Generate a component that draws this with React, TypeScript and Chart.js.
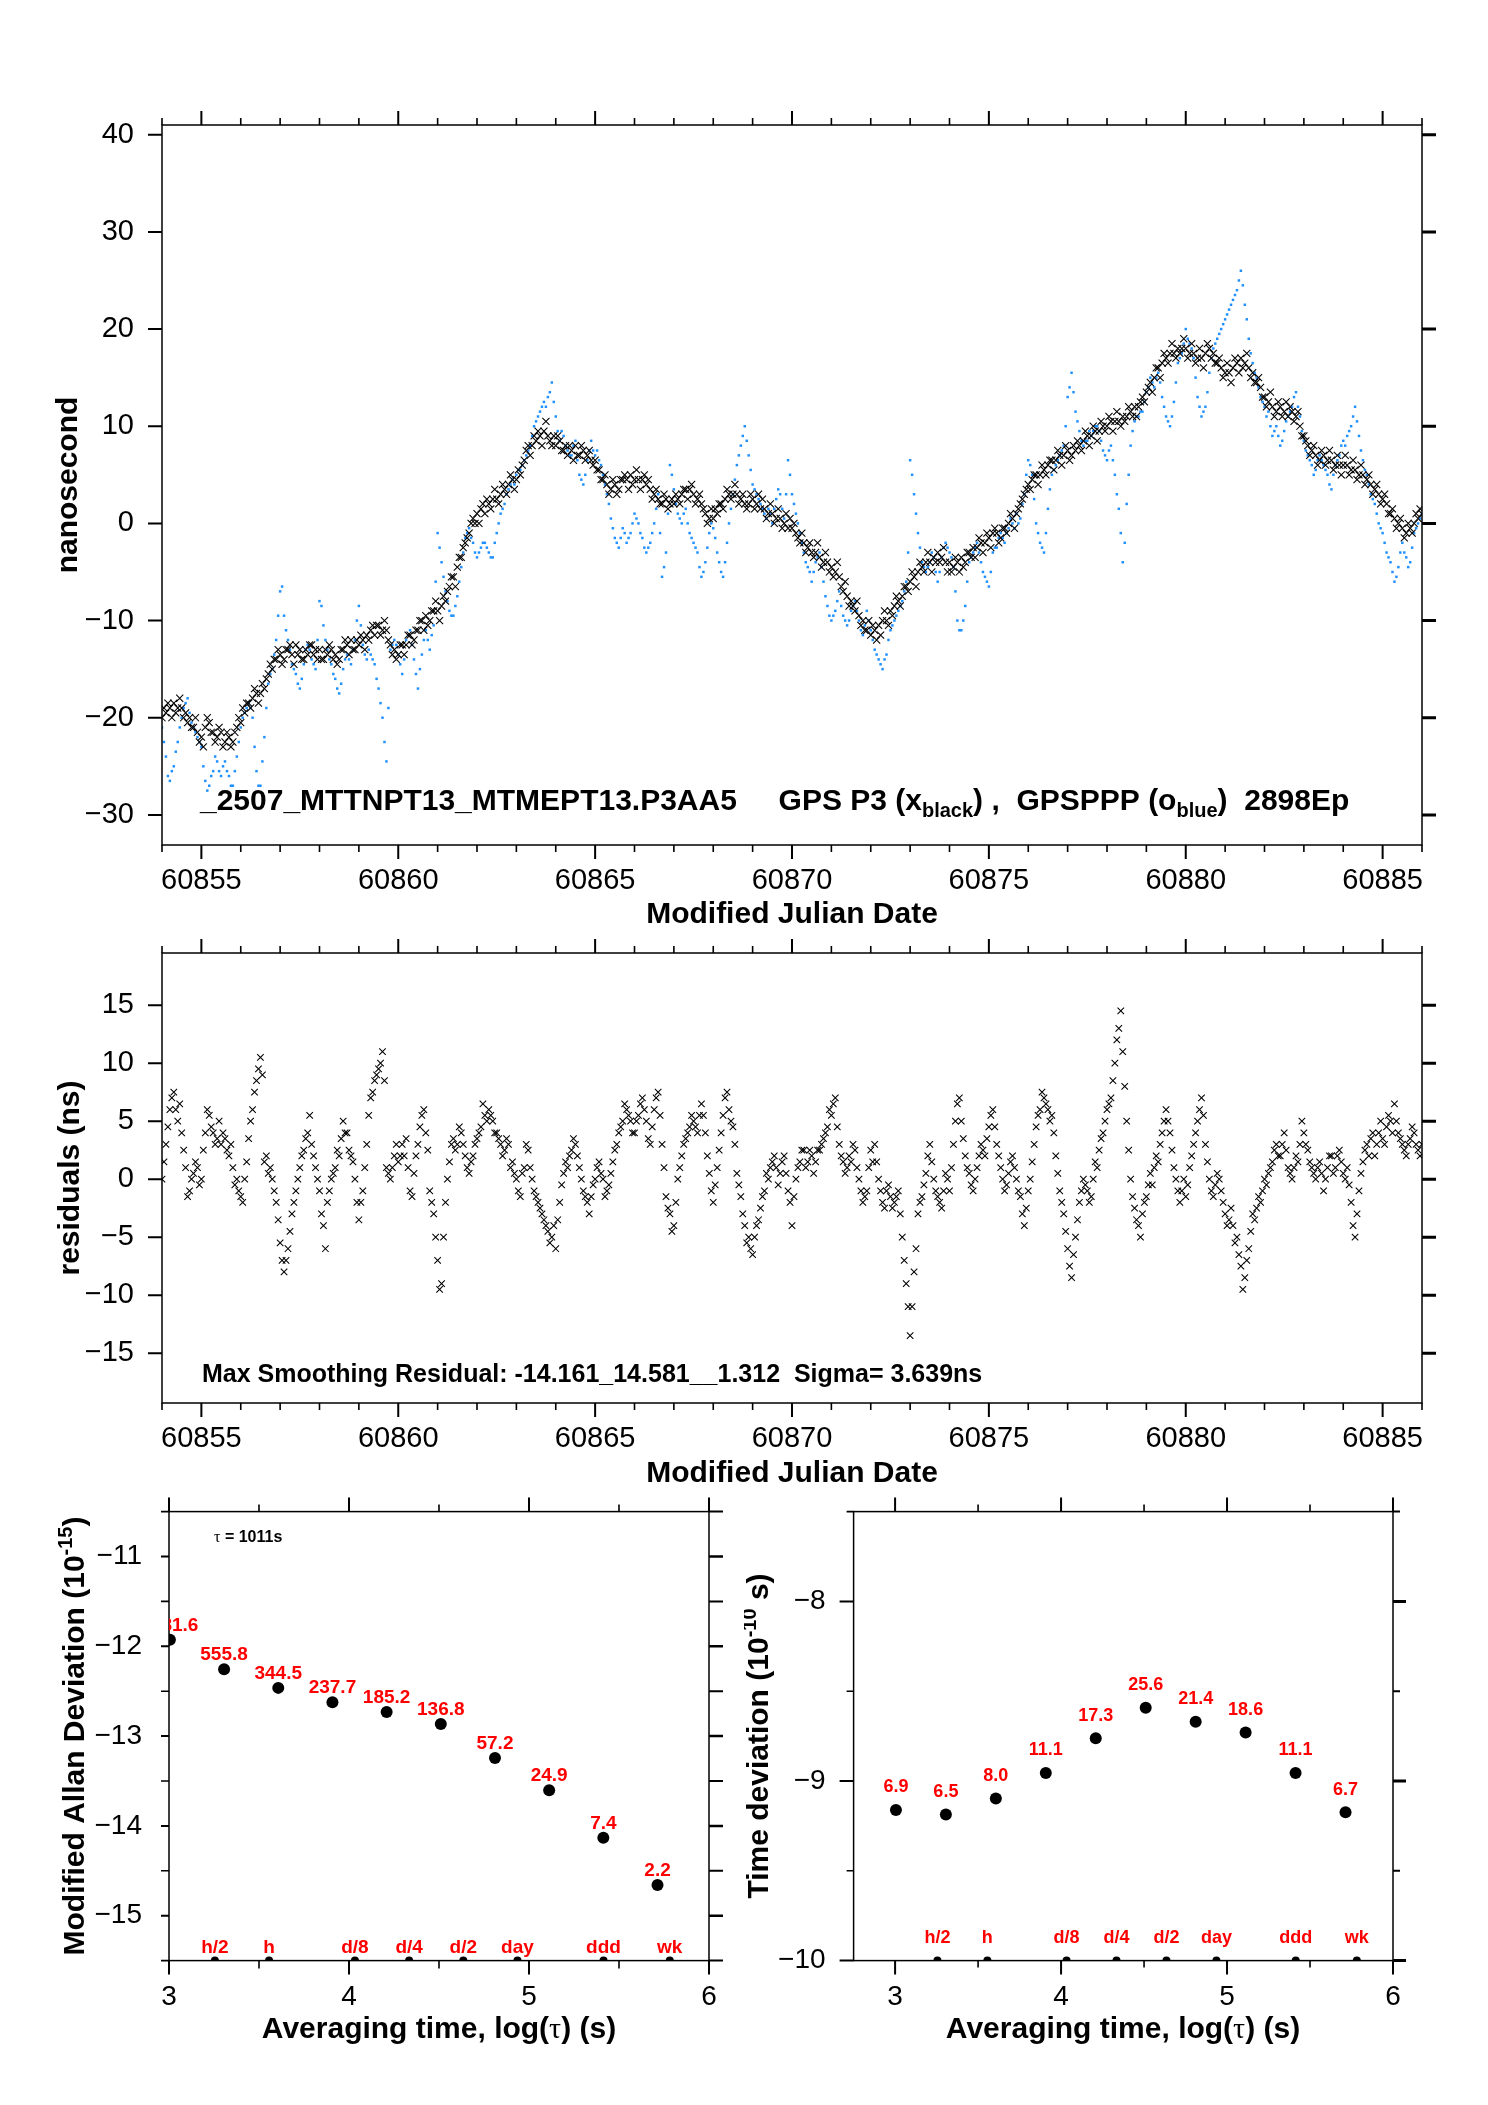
import React, { useEffect, useRef } from 'react';
import { Chart, registerables } from 'chart.js';
Chart.register(...registerables);

const SANS = "'Liberation Sans', Arial, Helvetica, sans-serif";
const SERIF = "'Liberation Serif', 'DejaVu Serif', serif";

// ---------- time series: MJD from 60854, 0.1 day step; "B" arrays are the readings half a step later ----------
const MJD_START = 60854;
const MJD_STEP = 0.1;

const p3Black = [
  -20, -19.5, -19, -18.5, -19, -19, -19.5, -20, -21, -21.5,
  -22, -21, -20.5, -21.5, -22, -21.5, -22.5, -22, -22.5, -21,
  -20.5, -19.5, -18.5, -18, -17.5, -17.5, -17, -15.5, -15, -14,
  -13.5, -14, -13, -13.5, -12.5, -13, -14, -13.5, -12.5, -13,
  -13, -14, -13.5, -13, -13.5, -14, -13, -12.5, -12, -13,
  -12.5, -12, -11.5, -11, -11.5, -10.5, -11, -11, -12.5, -13,
  -13.5, -12.5, -12.5, -11.5, -12, -11, -10, -9.5, -10, -9,
  -9, -8.5, -8, -6.5, -5.5, -4.5, -3.5, -2, -1, 0.5,
  1, 1.5, 1, 2, 2.5, 2.5, 3, 3.5, 4, 4.5,
  4.5, 5, 6.5, 8, 8, 8.5, 9, 9.5, 9, 8,
  8, 8.5, 7.5, 7, 7.5, 8, 7, 7.5, 7, 6.5,
  6.5, 5.5, 4.5, 4, 3.5, 4, 3.5, 4.5, 4.5, 5,
  4.5, 4.5, 4.5, 4, 3.5, 3, 2.5, 2, 2.5, 2,
  2, 2.5, 3, 3.5, 3.5, 3, 2.5, 2, 1, 0.5,
  0.5, 1, 2, 2.5, 3, 3, 3, 2.5, 2, 2,
  2.5, 2, 1.5, 1.5, 1, 1, 0.5, 0.5, 0, -0.5,
  -0.5, -1, -2, -2, -2.5, -3, -3, -3.5, -4, -4,
  -4.5, -5, -5.5, -7, -7.5, -8, -9, -9.5, -10, -11,
  -11.5, -11, -10.5, -10, -10, -9, -8.5, -8, -7.5, -6.5,
  -6, -5.5, -5, -4.5, -4, -4, -3.5, -3, -3.5, -4,
  -4, -4.5, -4, -3.5, -4, -3, -2.5, -2.5, -2, -2,
  -1.5, -1, -1, -1.5, -0.5, 0, 0.5, 1, 2, 3,
  4, 4.5, 5, 5, 5.5, 6, 6.5, 6.5, 7, 7,
  7.5, 7, 7.5, 8, 8.5, 9, 9, 9.5, 9.5, 10,
  10, 10.5, 10.5, 10.5, 11, 11, 11.5, 12, 12, 13,
  13.5, 14.5, 15, 16, 16.5, 17, 17.5, 17.5, 18, 18,
  18, 17.5, 17.5, 17, 17, 17.5, 18, 17.5, 16.5, 16,
  15.5, 15.5, 16, 16.5, 17, 16.5, 16, 15.5, 14.5, 14,
  13, 12.5, 12, 11.5, 12, 11.5, 11, 11.5, 11, 10,
  9, 8, 7.5, 7, 6.5, 7, 6.5, 6.5, 6, 6,
  6, 6, 5.5, 5.5, 5, 5, 4.5, 4, 3.5, 3,
  2.5, 2, 1, 0.5, 0, -0.5, -1, -0.5, 0, 0.5,
  1,
];
const p3BlackB = [
  -19, -18.5, -20, -19.5, -18, -20, -20.5, -21, -20, -22.5,
  -23, -20, -21.5, -22.5, -21, -23, -21.5, -23, -21.5, -20,
  -19, -18.5, -19, -17, -18.5, -16.5, -16, -14.5, -14, -13,
  -14.5, -13, -12.5, -14.5, -13.5, -14, -13, -12.5, -13.5, -14,
  -14, -13, -12.5, -14, -14.5, -13, -12, -13.5, -13, -12,
  -11.5, -13, -12, -10.5, -10.5, -11.5, -10, -12, -13.5, -14,
  -12.5, -13.5, -11.5, -12.5, -11, -10, -11, -10.5, -9, -8,
  -10, -7.5, -7, -5.5, -6.5, -3.5, -2.5, -1.5, 0, 0,
  0, 2, 2.5, 1.5, 3.5, 2, 4, 3, 5, 3.5,
  5.5, 6, 7.5, 7, 9, 9.5, 8, 10.5, 8.5, 9,
  9, 7.5, 8, 8, 6.5, 7, 8, 6.5, 7.5, 6,
  5.5, 4.5, 5, 3, 4.5, 3, 4.5, 5, 3.5, 4,
  5.5, 3.5, 5, 4.5, 2.5, 3.5, 2, 3, 1.5, 2.5,
  3, 2, 3.5, 2.5, 4, 2, 3, 1.5, 0, 1.5,
  1.5, 2, 1.5, 3.5, 2.5, 4, 2, 3, 1.5, 3,
  1.5, 3, 2.5, 0.5, 2, 0, 1.5, -0.5, 1, 0.5,
  0, -1.5, -1, -3, -2, -3.5, -2, -4.5, -3, -5,
  -5.5, -4, -6.5, -6, -8.5, -8.5, -8, -10.5, -11, -10,
  -10.5, -12, -11.5, -9, -10.5, -9.5, -7.5, -8.5, -6.5, -7,
  -5, -6.5, -4, -5, -3, -5, -4, -4, -2.5, -5,
  -5, -3.5, -5, -4.5, -3, -3.5, -3.5, -1.5, -3, -1,
  -2.5, -0.5, -2, -0.5, -1, 1, -0.5, 1.5, 2.5, 3.5,
  3.5, 5, 4, 6, 5, 6.5, 5.5, 7.5, 6, 8,
  6.5, 8, 8.5, 7.5, 9.5, 8, 10, 8.5, 10.5, 9.5,
  11, 9.5, 11.5, 10, 10.5, 12, 11, 11, 12.5, 12.5,
  14, 13.5, 16, 15, 17.5, 16.5, 18.5, 17, 17.5, 19,
  17, 18.5, 16.5, 18, 16, 18.5, 17, 16.5, 17, 15,
  16.5, 14.5, 17, 15.5, 16, 17.5, 15, 14.5, 15, 13,
  12, 13.5, 11, 12.5, 11, 12.5, 12, 10.5, 11.5, 9,
  8.5, 7, 8, 6, 7.5, 6, 7.5, 5.5, 7, 5,
  7, 5, 6.5, 4.5, 6, 4, 5, 3, 4, 2,
  3, 1, 1.5, -0.5, 0.5, -1.5, 0, -1, 1, 1.5,
];

const pppBlue = [
  -21, -24, -26.5, -25, -22.5, -20, -18.5, -19.5, -21, -22,
  -23, -26.5, -27, -25.5, -24.5, -26, -24.5, -26, -27, -24,
  -21, -19.5, -18.5, -20, -25.5, -27, -22, -16.5, -15, -12,
  -7, -9.5, -12, -14.5, -15.5, -17, -14.5, -12.5, -14, -15,
  -8, -10.5, -13, -14.5, -16, -17.5, -15, -13.5, -14.5, -12,
  -8.5, -12.5, -14, -13.5, -14.5, -17, -20, -24.5, -13, -12,
  -13.5, -15.5, -12, -11, -14, -17, -13.5, -11, -13, -10.5,
  -1, -4, -7, -9, -9.5, -7.5, -4.5, -1.5, -0.5, -2,
  -3.5, -2.5, -2, -3, -3.5, -1, 1, 2, 3.5, 4.5,
  5, 5.5, 6.5, 7.5, 9, 10.5, 11.5, 12.5, 13, 14.5,
  11, 8.5, 9, 7.5, 7, 8.5, 5, 4, 6.5, 8.5,
  7, 6.5, 5, 3, 0.5, -1.5, -2.5, -0.5, -2, -1,
  1, 0, -1.5, -3, -2, 0, 3, -5.5, -3, 6,
  3.5, 1, 0, 1.5, -1, -2, -3, -5.5, -4, -1,
  -0.5, -3, -5, -4, 0, 3, 6, 8, 10, 7,
  4, 3, 2, 1, 1.5, 0, 2.5, 3, 0.5, 6.5,
  3, 1, -1, -3, -4.5, -6, -4, -3, -6, -8.5,
  -10, -9, -7, -9.5, -10.5, -9, -8, -10, -11.5, -9,
  -11, -13, -14, -15, -13.5, -11, -10, -9, -8, -6,
  6.5, 3, -1, -4, -5, -4, -3.5, -6, -3.5, -2,
  -3, -4.5, -10, -11, -8.5, -4, -3, -2, -4, -5.5,
  -6.5, -3, -2.5, -1, -2, -0.5, 0, 1, 0.5, 3,
  6.5, 5, 0, -2, -3, 1.5, 5, 6, 7, 8,
  13, 15.5, 11.5, 9.5, 8, 8.5, 9, 10, 9.5, 7.5,
  6.5, 8, 5, 1.5, -4, 2, 8, 10.5, 11, 11.5,
  13.5, 15, 14, 15.5, 13, 11, 10, 12.5, 16.5, 17.5,
  20, 18.5, 17, 13, 11, 12, 15.5, 18, 19, 20,
  21, 22, 23, 24, 26, 22.5, 19, 16.5, 15, 13,
  12, 11.5, 9, 10, 8, 9.5, 11, 12, 13.5, 11,
  8.5, 7, 6, 5.5, 7, 6, 5, 3.5, 6, 7,
  8.5, 9, 10, 12, 9, 6.5, 5, 3, 2, 0,
  -1, -3, -4, -6, -4.5, -2, -3.5, -4, -1, 0,
  1,
];
const pppBlueB = [
  -22.5, -26, -25.5, -23.5, -21, -19, -18, -20.5, -21.5, -22.5,
  -25, -27.5, -26, -24, -25.5, -25, -25.5, -27, -25.5, -22.5,
  -20, -19, -19, -23, -27, -24.5, -19, -15.5, -13.5, -9.5,
  -6.5, -11, -13, -15, -16.5, -16, -13, -13, -14.5, -12,
  -8.5, -12, -14, -15.5, -17, -16.5, -14, -14, -13, -10,
  -10.5, -13.5, -13, -14, -16, -18.5, -22.5, -19, -12.5, -12.5,
  -14.5, -14, -11.5, -12.5, -15.5, -15, -12, -12, -11.5, -6,
  -2.5, -5.5, -8, -9.5, -8.5, -6, -3, -1, -1.5, -3,
  -3, -2, -2.5, -3.5, -2, 0, 1.5, 3, 4, 4,
  5.5, 6, 7, 8, 10, 11, 12, 12, 13.5, 12.5,
  9.5, 9.5, 8, 7, 8, 6.5, 4.5, 5, 7.5, 7.5,
  7.5, 6, 4, 2, -0.5, -2, -1.5, -1, -1.5, 0,
  0.5, -1, -2.5, -2.5, -1, 1.5, -1, -4.5, 1, 5,
  2, 0.5, 1, 0, -1.5, -2.5, -4.5, -5, -2.5, 0,
  -1.5, -4, -5.5, -2, 1.5, 4.5, 7, 9, 8.5, 5.5,
  3.5, 2.5, 1.5, 0.5, 1, 1.5, 3.5, 1.5, 3, 5,
  2, 0, -2, -4, -5, -5, -3.5, -4.5, -7.5, -9.5,
  -9.5, -8, -8.5, -10, -10, -8.5, -9, -11, -10.5, -10,
  -12, -13.5, -14.5, -14, -12, -10.5, -9.5, -8.5, -7, -3,
  5, 1, -2.5, -4.5, -4.5, -3, -5, -5, -2.5, -2.5,
  -3.5, -7, -11, -10, -6, -3.5, -2.5, -3, -5, -6,
  -5, -2.5, -1.5, -1.5, -1, 0.5, -0.5, 0, 2, 5,
  6, 2.5, -1, -2.5, -1, 3.5, 5.5, 6.5, 7.5, 10,
  14, 13.5, 10.5, 8.5, 8.5, 9.5, 9.5, 10, 8.5, 7,
  7.5, 6.5, 3, -1, -2, 5, 9.5, 11, 11.5, 12.5,
  14, 14.5, 15, 14.5, 12, 10.5, 11, 14.5, 17, 18.5,
  19, 18, 15, 12, 11.5, 13.5, 17, 18.5, 19.5, 20.5,
  21.5, 22.5, 23.5, 25, 24.5, 21, 17.5, 15.5, 14, 12.5,
  11, 10, 9.5, 9, 8.5, 10.5, 11.5, 13, 12, 9.5,
  7.5, 6.5, 5, 6.5, 6.5, 5.5, 4, 5, 6.5, 8,
  8, 9.5, 11, 10.5, 7.5, 5.5, 4, 2.5, 1, -0.5,
  -2, -3.5, -5, -5.5, -3, -3, -4.5, -2.5, -0.5, 0.5,
];

const residuals = [
  0, 3, 6, 7.5, 5, 4, 1, -1, 0.5, 1,
  0, 4, 5.5, 4, 3.5, 3, 3.5, 2, 1, 0,
  -1.5, 0, 3.5, 6, 8.5, 10.5, 1.5, 0.5, 0, -2,
  -5.5, -8, -6, -3, -1, 1, 2.5, 4, 3, 1,
  -1, -4, -2, 0, 1, 2, 5, 4, 2, 0,
  -3.5, -1, 3, 7, 8.5, 9.5, 11, 1, 0, 2,
  1.5, 3, 3.5, -1, 0.5, 3, 5.5, 4, -1, -3,
  -7, -9, -2, 1.5, 3.5, 3, 4, 2, 0.5, 2,
  3.5, 4.5, 5.5, 6, 5, 4, 3, 2.5, 3, 1.5,
  0, -1.5, 1, 2.5, 0, -1.5, -2.5, -3.5, -4.5, -5,
  -6, -2, 0.5, 1, 2.5, 3, 1, -1, -2, -1.5,
  0, 1.5, 0, -1, 0.5, 2.5, 4, 5, 6, 5,
  4, 5.5, 7, 5, 3, 6, 7.5, 3, -1.5, -3,
  -4, 0, 2, 3.5, 4.5, 5, 4, 6.5, 4, 0.5,
  -2, 1, 4, 7, 6, 4.5, 0.5, -1.5, -4, -5,
  -6.5, -4, -2.5, -1, 0, 1.5, 1, 0.5, 2, -1,
  -4, 0, 1.5, 2.5, 1.5, 2, 1.5, 2.5, 3.5, 4.5,
  5.5, 7, 3, 1.5, 1, 1.5, 2.5, 0, -2, -1,
  2.5, 3, 0, -2, -1, -1.5, -2, -1, -5, -9,
  -13.5, -8, -3, -1.5, 0.5, 3, 0, -1.5, -2.5, 0.5,
  -1, 3, 6.5, 5, 2, 0.5, -1, 1, 3, 2,
  4.5, 6, 3, 1, -1, 0.5, 2, 0, -1.5, -4,
  -1, 1.5, 4.5, 6, 7, 6, 5.5, 2, -1, -3,
  -6, -8.5, -5, -2, 0, -1, -1.5, 1.5, 2.5, 4,
  6, 7, 10, 13, 11, 5, 0, -2.5, -4, -3,
  -1.5, 0.5, 1, 1.5, 4, 6, 4, 1, -1, -1,
  -1.5, 1, 3, 5, 7, 3, 0, -1.5, 0.5, -1,
  -3, -3.5, -4, -5, -7.5, -8.5, -6, -3, -2.5, -2,
  0, 0.5, 1.5, 3, 2, 4, 1, 0, 2, 3,
  4, 2.5, 1, 0, 1.5, -1, 1, 2, 1, 2.5,
  0.5, 1, -2, -5, -1, 1.5, 3, 3.5, 2, 4,
  3.5, 4.5, 5, 6.5, 4, 3, 2, 3.5, 4, 2.5,
  3,
];
const residualsB = [
  1.5, 4.5, 7, 6, 6.5, 2.5, -1.5, 0, 1.5, -0.5,
  2.5, 6, 4.5, 3, 5, 4, 2.5, 3, -0.5, -1,
  -2, 1.5, 5, 7.5, 9.5, 9, 2, 1, -1, -3.5,
  -7, -7, -4.5, -2, 0, 2, 3.5, 5.5, 2, 0,
  -3, -6, -1, 0.5, 2.5, 3.5, 4, 2.5, 1.5, -2,
  -2, 1, 5.5, 7.5, 9, 10, 8.5, 0.5, 1, 3,
  2, 2, 1, -1.5, 2, 4.5, 6, 2.5, -2, -5,
  -9.5, -5, 0, 3, 2.5, 4.5, 3, 1, 1.5, 3,
  4, 6.5, 5, 5.5, 4, 3.5, 2, 3.5, 1, 0.5,
  -1, 0.5, 3, 1, -1, -2, -3, -4, -5.5, -4,
  -3.5, -0.5, 1.5, 2, 3.5, 2, 0, -1.5, -3, -0.5,
  1, 0.5, -1.5, -0.5, 1.5, 3, 4.5, 6.5, 5.5, 4,
  5, 6.5, 6, 3.5, 4.5, 7, 5.5, 1, -2.5, -4.5,
  -2, 1, 3, 4, 5.5, 4.5, 5.5, 5.5, 2, -1,
  -0.5, 2.5, 5.5, 7.5, 5, 3, -0.5, -3, -5.5, -6,
  -5, -3.5, -1.5, 0.5, 1, 2, -0.5, 1.5, 0.5, -2,
  -1.5, 1, 2.5, 1, 2.5, 0.5, 2.5, 3, 4, 6,
  6.5, 4.5, 2, 0.5, 2, 3, 1, -1, -1.5, 1,
  1.5, 1.5, -1, -2.5, -0.5, -2.5, -1.5, -3, -7, -11,
  -11, -6, -2, -0.5, 2, 1.5, -1, -2, -1, 0,
  1, 5, 7, 3.5, 1, -0.5, 0, 2, 2.5, 3.5,
  5.5, 4.5, 2, 0, -0.5, 1.5, 1, -1, -3, -2.5,
  0, 3, 5.5, 7.5, 6.5, 5, 4, 0.5, -2, -4.5,
  -7.5, -6.5, -3.5, -1, -0.5, -2, 0, 1, 3.5, 5,
  6.5, 8.5, 12, 14.5, 8, 2.5, -1.5, -3.5, -5, -2,
  -0.5, -0.5, 2, 3, 5, 5, 2.5, 0, -2, 0,
  -0.5, 2, 4, 6, 5.5, 1.5, -1, -0.5, 0, -2,
  -4, -2.5, -5.5, -6.5, -9.5, -7, -4.5, -3.5, -1.5, -1,
  -0.5, 1, 2.5, 2, 3, 2.5, 0.5, 1, 1.5, 5,
  3, 1.5, 0.5, 1, 0.5, 0, 2, 0.5, 2, 1.5,
  0, -0.5, -4, -3, 0.5, 2.5, 2, 4, 3, 5,
  3, 5.5, 4, 5, 3.5, 2.5, 3, 4.5, 3, 2,
];

const mjdTicks = [60855, 60860, 60865, 60870, 60875, 60880, 60885];
const nsTicks = [-30, -20, -10, 0, 10, 20, 30, 40];
const resTicks = [-15, -10, -5, 0, 5, 10, 15];

// ---------- stability ----------
const logTau = [3.005, 3.306, 3.607, 3.908, 4.209, 4.51, 4.811, 5.112, 5.413, 5.714];
const mdevLog = [-11.927, -12.255, -12.463, -12.624, -12.732, -12.864, -13.243, -13.604, -14.131, -14.658];
const mdevLabels = ['1181.6', '555.8', '344.5', '237.7', '185.2', '136.8', '57.2', '24.9', '7.4', '2.2'];
const tdevLog = [-9.161, -9.187, -9.097, -8.955, -8.762, -8.592, -8.67, -8.73, -8.955, -9.174];
const tdevLabels = ['6.9', '6.5', '8.0', '11.1', '17.3', '25.6', '21.4', '18.6', '11.1', '6.7'];
const markerLog = [3.255, 3.556, 4.033, 4.334, 4.635, 4.936, 5.414, 5.782];
const markerLabels = ['h/2', 'h', 'd/8', 'd/4', 'd/2', 'day', 'ddd', 'wk'];
const logTicks = [3, 4, 5, 6];
const mdevTicks = [-11, -12, -13, -14, -15];
const tdevTicks = [-8, -9, -10];

// ---------- helpers ----------
const toXY = (arr: number[], off = 0) => arr.map((v, i) => ({ x: MJD_START + off + i * MJD_STEP, y: v }));
const fmtMinus = (v: number) => (v < 0 ? '\u2212' + Math.abs(v) : String(v));
const range = (a: number, b: number, s: number) => {
  const out: number[] = [];
  for (let v = a; v <= b + 1e-9; v += s) out.push(Math.round(v * 1000) / 1000);
  return out;
};
const without = (arr: number[], ex: number[]) => arr.filter((v) => !ex.some((e) => Math.abs(e - v) < 1e-6));

type Seg = { t: string; f: string; dy?: number; c?: string };
type TextItem = { segs: Seg[]; x: number; y: number; align: 'left' | 'center' | 'right'; rot?: number };
type TickSide = { major: number[]; minor: number[]; majLen: number; minLen: number; majW: number; minW: number };
type PointLabel = { ds: number; labels: string[]; font: string; color: string; dy: number };
type FrameCfg = {
  offX: number; offY: number;
  top?: TickSide; bottom?: TickSide; left?: TickSide; right?: TickSide;
  texts: TextItem[]; pointLabels?: PointLabel[];
};

function drawRich(ctx: CanvasRenderingContext2D, it: TextItem, offX: number, offY: number) {
  ctx.save();
  ctx.translate(it.x - offX, it.y - offY);
  if (it.rot) ctx.rotate(it.rot);
  let w = 0;
  for (const s of it.segs) { ctx.font = s.f; w += ctx.measureText(s.t).width; }
  let cx = it.align === 'left' ? 0 : it.align === 'center' ? -w / 2 : -w;
  ctx.textAlign = 'left';
  ctx.textBaseline = 'alphabetic';
  for (const s of it.segs) {
    ctx.font = s.f;
    ctx.fillStyle = s.c || '#000';
    ctx.fillText(s.t, cx, s.dy || 0);
    cx += ctx.measureText(s.t).width;
  }
  ctx.restore();
}

function makeFrame(cfg: FrameCfg) {
  return {
    id: 'frame',
    afterDatasetsDraw(chart: any) {
      const { ctx, chartArea: a, scales } = chart;
      const xs = scales.x, ys = scales.y;
      ctx.save();
      ctx.strokeStyle = '#000';
      ctx.lineWidth = 1.5;
      ctx.strokeRect(a.left, a.top, a.right - a.left, a.bottom - a.top);
      const draw = (side: 'top' | 'bottom' | 'left' | 'right', vals: number[], len: number, w: number) => {
        ctx.lineWidth = w;
        ctx.beginPath();
        for (const v of vals) {
          if (side === 'top' || side === 'bottom') {
            const p = xs.getPixelForValue(v);
            const y0 = side === 'top' ? a.top : a.bottom;
            ctx.moveTo(p, y0);
            ctx.lineTo(p, side === 'top' ? y0 - len : y0 + len);
          } else {
            const p = ys.getPixelForValue(v);
            const x0 = side === 'left' ? a.left : a.right;
            ctx.moveTo(x0, p);
            ctx.lineTo(side === 'left' ? x0 - len : x0 + len, p);
          }
        }
        ctx.stroke();
      };
      (['top', 'bottom', 'left', 'right'] as const).forEach((s) => {
        const t = cfg[s];
        if (!t) return;
        draw(s, t.major, t.majLen, t.majW);
        draw(s, t.minor, t.minLen, t.minW);
      });
      if (cfg.pointLabels) {
        ctx.save();
        ctx.beginPath();
        ctx.rect(a.left, a.top, a.right - a.left, a.bottom - a.top);
        ctx.clip();
        for (const pl of cfg.pointLabels) {
          const meta = chart.getDatasetMeta(pl.ds);
          ctx.font = pl.font;
          ctx.fillStyle = pl.color;
          ctx.textAlign = 'center';
          ctx.textBaseline = 'alphabetic';
          meta.data.forEach((el: any, i: number) => ctx.fillText(pl.labels[i], el.x, el.y - pl.dy));
        }
        ctx.restore();
      }
      for (const it of cfg.texts) drawRich(ctx, it, cfg.offX, cfg.offY);
      ctx.restore();
    },
  };
}

type Box = { left: number; top: number; width: number; height: number; l: number; t: number; r: number; b: number };

function buildConfig(box: Box, o: {
  xMin: number; xMax: number; yMin: number; yMax: number;
  xTicks: number[]; yTicks: number[]; xFmt: (v: number) => string; yFmt: (v: number) => string;
  fontSize: number; xPad: number; yPad: number; datasets: any[]; frame: FrameCfg;
}): any {
  const zeroPad = (s: any) => { s.paddingTop = 0; s.paddingBottom = 0; s.paddingLeft = 0; s.paddingRight = 0; };
  return {
    type: 'scatter',
    data: { datasets: o.datasets },
    options: {
      responsive: false,
      animation: false,
      devicePixelRatio: 1,
      events: [],
      layout: { padding: { top: box.t - box.top, right: box.left + box.width - box.r, left: 0, bottom: 0 } },
      plugins: { legend: { display: false }, tooltip: { enabled: false }, title: { display: false } },
      scales: {
        x: {
          type: 'linear', position: 'bottom', min: o.xMin, max: o.xMax,
          grid: { display: false, drawTicks: false, tickLength: 0 },
          border: { display: false },
          ticks: {
            autoSkip: false, maxRotation: 0, minRotation: 0, padding: o.xPad, color: '#000',
            font: { family: SANS, size: o.fontSize },
            callback: (v: number) => o.xFmt(v),
          },
          afterBuildTicks: (s: any) => { s.ticks = o.xTicks.map((v) => ({ value: v })); },
          afterFit: (s: any) => { s.height = box.top + box.height - box.b; zeroPad(s); },
        },
        y: {
          type: 'linear', position: 'left', min: o.yMin, max: o.yMax,
          grid: { display: false, drawTicks: false, tickLength: 0 },
          border: { display: false },
          ticks: {
            autoSkip: false, padding: o.yPad, color: '#000',
            font: { family: SANS, size: o.fontSize },
            callback: (v: number) => o.yFmt(v),
          },
          afterBuildTicks: (s: any) => { s.ticks = o.yTicks.map((v) => ({ value: v })); },
          afterFit: (s: any) => { s.width = box.l - box.left; zeroPad(s); },
        },
      },
    },
    plugins: [makeFrame(o.frame)],
  };
}

const B30 = `bold 30px ${SANS}`;
const B20 = `bold 20px ${SANS}`;

// ---------- chart boxes (page coordinates) ----------
const boxTop: Box = { left: 0, top: 90, width: 1488, height: 850, l: 162, t: 125, r: 1422, b: 845 };
const boxMid: Box = { left: 0, top: 930, width: 1488, height: 570, l: 162, t: 953, r: 1422, b: 1403 };
const boxL: Box = { left: 0, top: 1480, width: 744, height: 625, l: 169, t: 1511.6, r: 709, b: 1960.6 };
const boxR: Box = { left: 744, top: 1480, width: 744, height: 625, l: 853.6, t: 1511.6, r: 1393, b: 1960.6 };

const mjdAll = range(60854, 60886, 1);
const mjdMinor = without(mjdAll, mjdTicks);
const mjdSide = (): TickSide => ({ major: mjdTicks, minor: mjdMinor, majLen: 14, minLen: 7, majW: 2, minW: 1.6 });

const blackX = (data: any[], label: string, r: number) => ({
  label, data, showLine: false,
  pointStyle: 'crossRot', pointRadius: r, pointBorderWidth: 1.05,
  pointBorderColor: '#000', pointBackgroundColor: '#000',
});
const blueDot = (data: any[], label: string) => ({
  label, data, showLine: false,
  pointStyle: 'rect', pointRadius: 1.75, pointBorderWidth: 0,
  pointBackgroundColor: 'rgb(30,144,255)', pointBorderColor: 'rgb(30,144,255)',
});

function cfgTop() {
  return buildConfig(boxTop, {
    xMin: 60854, xMax: 60886, yMin: -33.1, yMax: 41,
    xTicks: mjdTicks, yTicks: nsTicks, xFmt: (v) => String(v), yFmt: fmtMinus,
    fontSize: 29, xPad: 19, yPad: 28,
    datasets: [
      blackX(toXY(p3Black), 'GPS P3', 5),
      blackX(toXY(p3BlackB, MJD_STEP / 2), 'GPS P3 b', 5),
      blueDot(toXY(pppBlue), 'GPSPPP'),
      blueDot(toXY(pppBlueB, MJD_STEP / 2), 'GPSPPP b'),
    ],
    frame: {
      offX: boxTop.left, offY: boxTop.top,
      top: mjdSide(), bottom: mjdSide(),
      left: { major: nsTicks, minor: [], majLen: 14, minLen: 0, majW: 2, minW: 1 },
      right: { major: nsTicks, minor: [], majLen: 14, minLen: 0, majW: 3, minW: 1 },
      texts: [
        { segs: [{ t: 'nanosecond', f: B30 }], x: 77, y: 485, align: 'center', rot: -Math.PI / 2 },
        { segs: [{ t: 'Modified Julian Date', f: B30 }], x: 792, y: 923, align: 'center' },
        {
          segs: [
            { t: '_2507_MTTNPT13_MTMEPT13.P3AA5     GPS P3 (x', f: B30 },
            { t: 'black', f: B20, dy: 7 },
            { t: ') ,  GPSPPP (o', f: B30 },
            { t: 'blue', f: B20, dy: 7 },
            { t: ')  2898Ep', f: B30 },
          ],
          x: 200, y: 810, align: 'left',
        },
      ],
    },
  });
}

function cfgMid() {
  return buildConfig(boxMid, {
    xMin: 60854, xMax: 60886, yMin: -19.3, yMax: 19.5,
    xTicks: mjdTicks, yTicks: resTicks, xFmt: (v) => String(v), yFmt: fmtMinus,
    fontSize: 29, xPad: 19, yPad: 28,
    datasets: [
      blackX(toXY(residuals), 'residuals', 4.6),
      blackX(toXY(residualsB, MJD_STEP / 2), 'residuals b', 4.6),
    ],
    frame: {
      offX: boxMid.left, offY: boxMid.top,
      top: mjdSide(), bottom: mjdSide(),
      left: { major: resTicks, minor: [], majLen: 14, minLen: 0, majW: 2, minW: 1 },
      right: { major: resTicks, minor: [], majLen: 14, minLen: 0, majW: 3, minW: 1 },
      texts: [
        { segs: [{ t: 'residuals (ns)', f: B30 }], x: 79, y: 1178, align: 'center', rot: -Math.PI / 2 },
        { segs: [{ t: 'Modified Julian Date', f: B30 }], x: 792, y: 1482, align: 'center' },
        {
          segs: [{ t: 'Max Smoothing Residual: -14.161_14.581__1.312  Sigma= 3.639ns', f: `bold 25px ${SANS}` }],
          x: 202, y: 1382, align: 'left',
        },
      ],
    },
  });
}

const xTitle = (x: number): TextItem => ({
  segs: [
    { t: 'Averaging time, log(', f: B30 },
    { t: '\u03c4', f: `30px ${SERIF}` },
    { t: ') (s)', f: B30 },
  ],
  x, y: 2038, align: 'center',
});

function stabDatasets(vals: number[], yMin: number) {
  return [
    {
      label: 'dev', data: logTau.map((x, i) => ({ x, y: vals[i] })), showLine: false,
      pointStyle: 'circle', pointRadius: 6, pointBorderWidth: 0,
      pointBackgroundColor: '#000', pointBorderColor: '#000',
    },
    {
      label: 'marks', data: markerLog.map((x) => ({ x, y: yMin })), showLine: false, clip: 0,
      pointStyle: 'circle', pointRadius: 4, pointBorderWidth: 0,
      pointBackgroundColor: '#000', pointBorderColor: '#000',
    },
  ];
}

function cfgL() {
  return buildConfig(boxL, {
    xMin: 3, xMax: 6, yMin: -15.5, yMax: -10.5,
    xTicks: logTicks, yTicks: mdevTicks, xFmt: (v) => String(v), yFmt: fmtMinus,
    fontSize: 28, xPad: 20, yPad: 27,
    datasets: stabDatasets(mdevLog, -15.5),
    frame: {
      offX: boxL.left, offY: boxL.top,
      top: { major: logTicks, minor: [3.5, 4.5, 5.5], majLen: 14, minLen: 7, majW: 2, minW: 1.6 },
      bottom: { major: logTicks, minor: [3.5, 4.5, 5.5], majLen: 14, minLen: 8, majW: 2, minW: 1.6 },
      left: { major: mdevTicks, minor: [-10.5, -11.5, -12.5, -13.5, -14.5, -15.5], majLen: 8, minLen: 8, majW: 2, minW: 1.6 },
      right: { major: mdevTicks, minor: [-10.5, -11.5, -12.5, -13.5, -14.5, -15.5], majLen: 14, minLen: 14, majW: 2.5, minW: 2 },
      pointLabels: [
        { ds: 0, labels: mdevLabels, font: `bold 19px ${SANS}`, color: '#ff0000', dy: 9 },
        { ds: 1, labels: markerLabels, font: `bold 19px ${SANS}`, color: '#ff0000', dy: 8 },
      ],
      texts: [
        {
          segs: [
            { t: 'Modified Allan Deviation (10', f: B30 },
            { t: '-15', f: B20, dy: -12 },
            { t: ')', f: B30 },
          ],
          x: 84, y: 1736, align: 'center', rot: -Math.PI / 2,
        },
        xTitle(439),
        {
          segs: [{ t: '\u03c4', f: `16px ${SERIF}` }, { t: ' = 1011s', f: `bold 16px ${SANS}` }],
          x: 214, y: 1542, align: 'left',
        },
      ],
    },
  });
}

function cfgR() {
  return buildConfig(boxR, {
    xMin: 2.75, xMax: 6, yMin: -10, yMax: -7.5,
    xTicks: logTicks, yTicks: tdevTicks, xFmt: (v) => String(v), yFmt: fmtMinus,
    fontSize: 28, xPad: 20, yPad: 28,
    datasets: stabDatasets(tdevLog, -10),
    frame: {
      offX: boxR.left, offY: boxR.top,
      top: { major: logTicks, minor: [3.5, 4.5, 5.5], majLen: 14, minLen: 7, majW: 2, minW: 1.6 },
      bottom: { major: logTicks, minor: [3.5, 4.5, 5.5], majLen: 14, minLen: 7, majW: 2, minW: 1.6 },
      left: { major: tdevTicks, minor: [-7.5, -8.5, -9.5], majLen: 14, minLen: 7, majW: 2, minW: 1.6 },
      right: { major: tdevTicks, minor: [-7.5, -8.5, -9.5], majLen: 13, minLen: 7, majW: 3, minW: 2 },
      pointLabels: [
        { ds: 0, labels: tdevLabels, font: `bold 18px ${SANS}`, color: '#ff0000', dy: 17.5 },
        { ds: 1, labels: markerLabels, font: `bold 18px ${SANS}`, color: '#ff0000', dy: 18 },
      ],
      texts: [
        {
          segs: [
            { t: 'Time deviation (10', f: B30 },
            { t: '-10', f: B20, dy: -12 },
            { t: ' s)', f: B30 },
          ],
          x: 767.5, y: 1736, align: 'center', rot: -Math.PI / 2,
        },
        xTitle(1123),
      ],
    },
  });
}

export default function App() {
  const rTop = useRef<HTMLCanvasElement>(null);
  const rMid = useRef<HTMLCanvasElement>(null);
  const rL = useRef<HTMLCanvasElement>(null);
  const rR = useRef<HTMLCanvasElement>(null);

  useEffect(() => {
    document.body.style.margin = '0';
    document.body.style.background = '#fff';
    const charts = [
      new Chart(rTop.current!, cfgTop()),
      new Chart(rMid.current!, cfgMid()),
      new Chart(rL.current!, cfgL()),
      new Chart(rR.current!, cfgR()),
    ];
    return () => charts.forEach((c) => c.destroy());
  }, []);

  const cv = (b: Box): React.CSSProperties => ({
    position: 'absolute', left: b.left, top: b.top, width: b.width, height: b.height,
  });

  return (
    <div style={{ position: 'relative', width: 1488, height: 2105, background: '#fff', overflow: 'hidden' }}>
      <canvas ref={rTop} width={boxTop.width} height={boxTop.height} style={cv(boxTop)} />
      <canvas ref={rMid} width={boxMid.width} height={boxMid.height} style={cv(boxMid)} />
      <canvas ref={rL} width={boxL.width} height={boxL.height} style={cv(boxL)} />
      <canvas ref={rR} width={boxR.width} height={boxR.height} style={cv(boxR)} />
    </div>
  );
}
